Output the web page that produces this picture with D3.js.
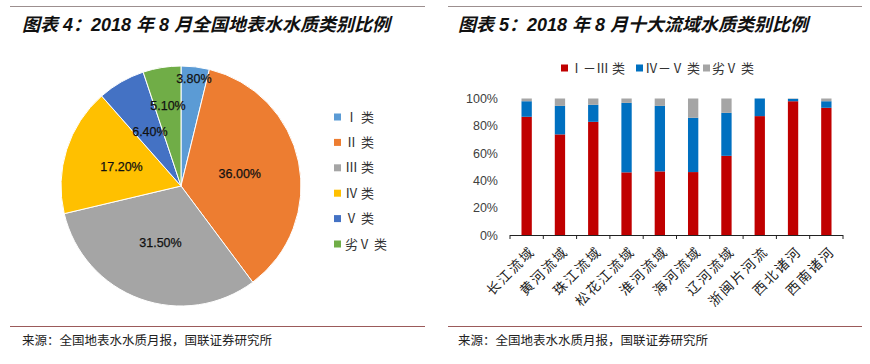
<!DOCTYPE html>
<html><head><meta charset="utf-8">
<script src="https://cdn.jsdelivr.net/npm/d3@7"></script>
<style>
body{margin:0;background:#fff;}
svg{display:block;}
</style></head>
<body>
<svg id="c" width="870" height="364"></svg>
<script>
// ---- data ----
const pieCategories = ["Ⅰ 类", "Ⅱ 类", "Ⅲ 类", "Ⅳ 类", "Ⅴ 类", "劣Ⅴ 类"];
const pieValues = [3.8, 36.0, 31.5, 17.2, 6.4, 5.1];
const pieLabels = ["3.80%", "36.00%", "31.50%", "17.20%", "6.40%", "5.10%"];

const basins = ["长江流域", "黄河流域", "珠江流域", "松花江流域", "淮河流域", "海河流域", "辽河流域", "浙闽片河流", "西北诸河", "西南诸河"];
const seriesNames = ["Ⅰ－Ⅲ 类", "Ⅳ－Ⅴ 类", "劣Ⅴ 类"];
const grade1to3 = [86.6, 73.7, 82.9, 45.9, 46.6, 46.1, 58.0, 87.1, 98.0, 93.2];
const grade4to5 = [11.4, 20.9, 12.5, 50.9, 48.0, 39.8, 31.5, 12.9, 1.7, 4.8];
const gradeWorse = [2.0, 5.4, 4.6, 3.2, 5.4, 14.1, 10.5, 0.0, 0.3, 2.0];
const yTicks = [0, 20, 40, 60, 80, 100];

const leftTitle = "图表 4：2018 年 8 月全国地表水水质类别比例";
const rightTitle = "图表 5：2018 年 8 月十大流域水质类别比例";
const sourceText = "来源：全国地表水水质月报，国联证券研究所";

// ---- styles ----
const pieColors = ["#5B9BD5", "#ED7D31", "#A5A5A5", "#FFC000", "#4472C4", "#70AD47"];
const barColors = ["#C00000", "#0070C0", "#A5A5A5"];
const labelRadiusFactor = [0.9, 0.5, 0.5, 0.52, 0.52, 0.68];
const sansCJK = "'Liberation Sans', Arial, 'Noto Sans CJK SC', sans-serif";

const svg = d3.select("#c");

function panelFrame(x0, x1, titleX, title) {
  svg.append("line").attr("x1", x0).attr("x2", x1).attr("y1", 6.5).attr("y2", 6.5)
    .attr("stroke", "#9c8f8f").attr("stroke-width", 1);
  svg.append("text").attr("x", titleX).attr("y", 31)
    .attr("font-family", sansCJK).attr("font-size", 18).attr("font-weight", "bold")
    .attr("font-style", "italic").attr("fill", "#111").text(title);
  svg.append("line").attr("x1", x0).attr("x2", x1).attr("y1", 326.5).attr("y2", 326.5)
    .attr("stroke", "#9b5a5a").attr("stroke-width", 1);
  svg.append("text").attr("x", titleX).attr("y", 345)
    .attr("font-family", "'Noto Sans CJK SC', sans-serif").attr("font-size", 12.5)
    .attr("fill", "#222").text(sourceText);
}
panelFrame(10, 425, 22, leftTitle);
panelFrame(448, 862, 458, rightTitle);

// ---- pie ----
const cx = 181, cy = 186, R = 120;
const pieGen = d3.pie().sort(null).value(d => d)(pieValues);
const arc = d3.arc().innerRadius(0).outerRadius(R);
const gPie = svg.append("g").attr("transform", `translate(${cx},${cy})`);
gPie.selectAll("path").data(pieGen).join("path")
  .attr("d", arc).attr("fill", (d, i) => pieColors[i])
  .attr("stroke", "#fff").attr("stroke-width", 1);
gPie.selectAll("text").data(pieGen).join("text")
  .attr("transform", (d, i) => {
    const r = R * labelRadiusFactor[i];
    const c = d3.arc().innerRadius(r).outerRadius(r).centroid(d);
    return `translate(${c[0]},${c[1]})`;
  })
  .attr("text-anchor", "middle").attr("dy", "0.35em")
  .attr("font-family", "'Liberation Sans', Arial, sans-serif").attr("font-size", 12.5)
  .attr("fill", "#111").attr("stroke", "#111").attr("stroke-width", 0.25)
  .text((d, i) => pieLabels[i]);

// pie legend
const legL = svg.append("g");
pieCategories.forEach((c, i) => {
  const y = 117 + i * 25.4;
  legL.append("rect").attr("x", 334).attr("y", y - 3.5).attr("width", 7).attr("height", 7).attr("fill", pieColors[i]);
  legL.append("text").attr("x", 345).attr("y", y).attr("dy", "0.36em")
    .attr("font-family", "'Noto Sans CJK SC', sans-serif").attr("font-size", 13).attr("fill", "#333").text(c);
});

// ---- stacked bars ----
const x = d3.scaleBand().domain(basins).range([510, 843]).paddingInner(0.69).paddingOuter(0.345);
const y = d3.scaleLinear().domain([0, 100]).range([235, 98.5]);
const rows = basins.map((b, i) => ({ basin: b, s0: grade1to3[i], s1: grade4to5[i], s2: gradeWorse[i] }));
const stacked = d3.stack().keys(["s0", "s1", "s2"])(rows);
svg.append("g").selectAll("g").data(stacked).join("g")
  .attr("fill", (d, i) => barColors[i])
  .selectAll("rect").data(d => d).join("rect")
  .attr("x", d => x(d.data.basin)).attr("width", x.bandwidth())
  .attr("y", d => y(Math.min(100, d[1]))).attr("height", d => Math.max(0, y(d[0]) - y(Math.min(100, d[1]))));

// y axis labels
svg.append("g").selectAll("text").data(yTicks).join("text")
  .attr("x", 498).attr("y", d => y(d)).attr("dy", "0.36em").attr("text-anchor", "end")
  .attr("font-family", "'Liberation Sans', Arial, sans-serif").attr("font-size", 12.5)
  .attr("fill", "#404040").text(d => d + "%");

// x axis line and ticks
const xa = svg.append("g");
xa.append("line").attr("x1", 510).attr("x2", 843).attr("y1", 235.5).attr("y2", 235.5).attr("stroke", "#222");
const bounds = basins.map((b, i) => 510 + i * x.step());
bounds.push(843);
xa.selectAll("line.t").data(bounds).join("line").attr("class", "t")
  .attr("x1", d => d).attr("x2", d => d).attr("y1", 235).attr("y2", 239).attr("stroke", "#222");
xa.selectAll("text").data(basins).join("text")
  .attr("transform", d => `translate(${x(d) + x.bandwidth() / 2 + 6},${249}) rotate(-45)`)
  .attr("text-anchor", "end").attr("dy", "0.35em")
  .attr("font-family", "'Noto Sans CJK SC', sans-serif").attr("font-size", 13.5)
  .attr("letter-spacing", 2).attr("fill", "#222")
  .text(d => d);

// bar legend
const legR = svg.append("g");
const legX = [561, 636, 703];
seriesNames.forEach((s, i) => {
  legR.append("rect").attr("x", legX[i]).attr("y", 64.5).attr("width", 7).attr("height", 7).attr("fill", barColors[i]);
  legR.append("text").attr("x", legX[i] + 9).attr("y", 68).attr("dy", "0.36em")
    .attr("font-family", "'Noto Sans CJK SC', sans-serif").attr("font-size", 13).attr("fill", "#333").text(s);
});
</script>
</body></html>
